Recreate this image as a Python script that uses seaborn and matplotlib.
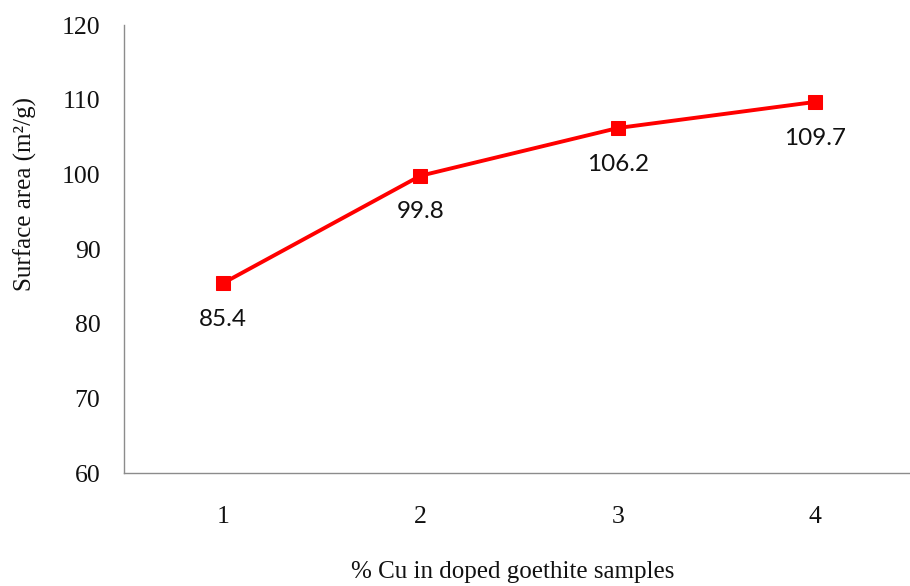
import matplotlib
matplotlib.use("Agg")
import matplotlib.pyplot as plt
import seaborn as sns
import pandas as pd

# Copper content of the doped goethite samples and their BET surface area
cu_percent = [1, 2, 3, 4]
surface_area = [85.4, 99.8, 106.2, 109.7]
y_ticks = [60, 70, 80, 90, 100, 110, 120]

df = pd.DataFrame({"cu": cu_percent, "area": surface_area})

sns.set_theme(style="white")
plt.rcParams["font.family"] = ["Liberation Serif", "DejaVu Serif"]

fig = plt.figure(figsize=(9.10, 5.86), dpi=100)
ax = fig.add_axes([124 / 910, 113 / 586, 790 / 910, 448 / 586])

sns.lineplot(data=df, x="cu", y="area", ax=ax, color="#ff0000",
             linewidth=2.8, marker="s", markersize=10,
             markeredgecolor="#ff0000", markerfacecolor="#ff0000")

for x, y in zip(cu_percent, surface_area):
    ax.annotate(f"{y:.1f}", (x, y), xytext=(0, -26), textcoords="offset points",
                ha="center", va="center", fontsize=17.5,
                family=["Lato", "DejaVu Sans"], color="#111111")

ax.set_xlim(0.5, 4.5)
ax.set_ylim(60, 120)
ax.set_xticks(cu_percent)
ax.set_xticklabels([str(c) for c in cu_percent])
ax.set_yticks(y_ticks)
ax.tick_params(axis="y", length=0, pad=17, labelsize=18.5, labelcolor="#111111")
ax.tick_params(axis="x", length=0, pad=24, labelsize=18.5, labelcolor="#111111")
ax.set_xlabel("")
ax.set_ylabel("")

for side in ("top", "right"):
    ax.spines[side].set_visible(False)
for side in ("left", "bottom"):
    ax.spines[side].set_color("#8c8c8c")
    ax.spines[side].set_linewidth(1.0)

fig.text(513 / 910, 1 - 572 / 586, "% Cu in doped goethite samples",
         ha="center", va="center", fontsize=18, color="#111111")
fig.text(25 / 910, 1 - 194 / 586, "Surface area (m\u00b2/g)", rotation=90,
         ha="center", va="center", fontsize=18, color="#111111")

fig.savefig("out.png", dpi=100)
